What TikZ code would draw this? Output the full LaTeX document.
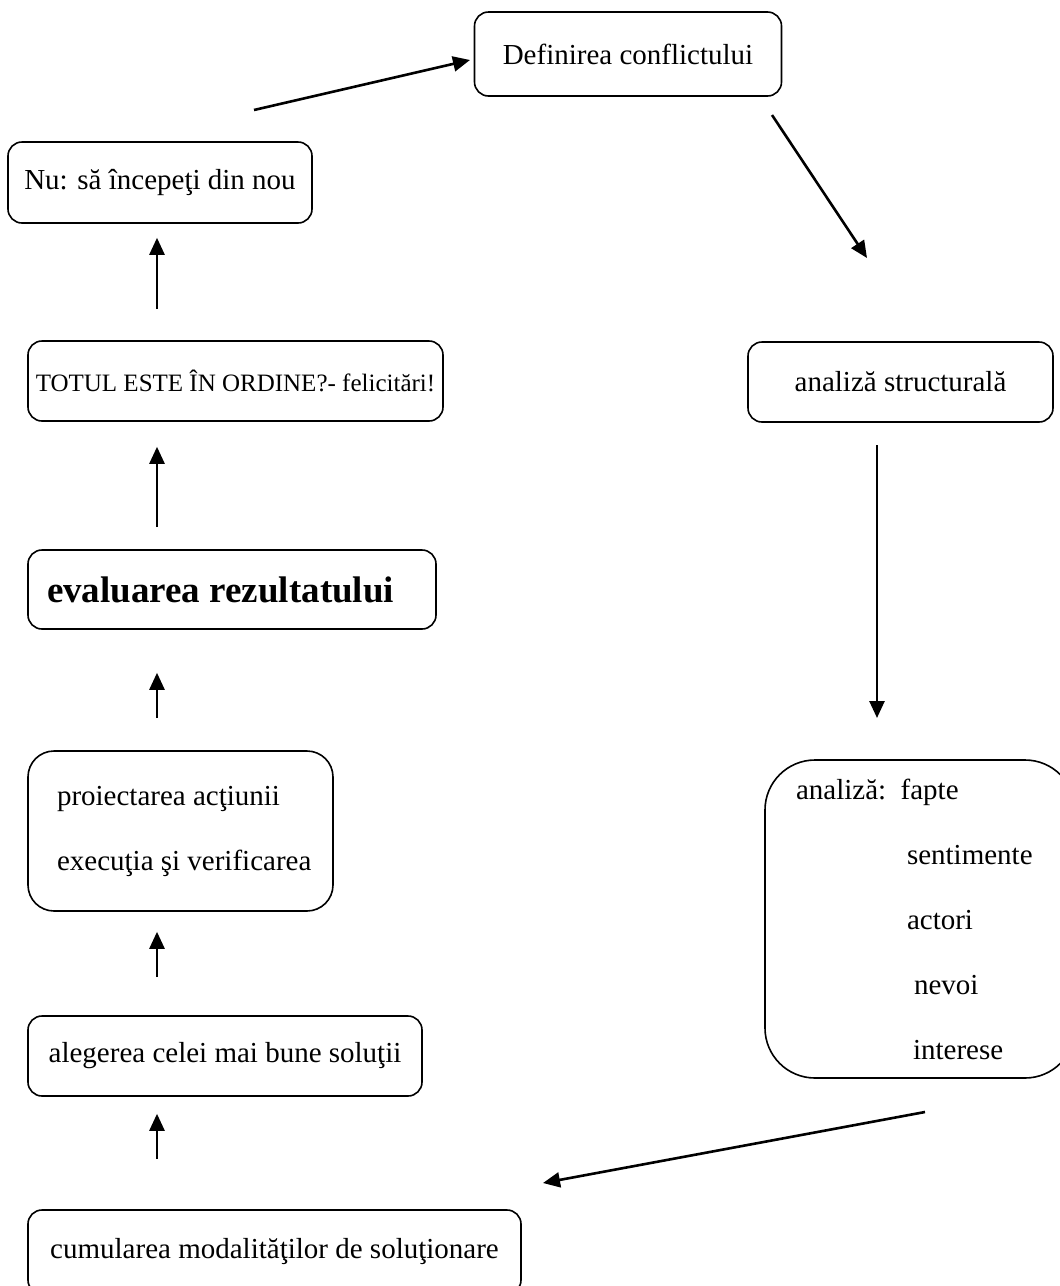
\documentclass[tikz,border=0pt]{standalone}
\usepackage{fontspec}
\setmainfont{Liberation Serif}
\usetikzlibrary{arrows.meta}

\begin{document}
\begin{tikzpicture}[x=1pt, y=-1pt,
  box/.style={draw, line width=1.6pt, rounded corners=14pt, inner sep=0pt,
    font=\fontsize{29}{34}\selectfont},
  flow/.style={line width=2.6pt, -{Triangle[length=17pt, width=15pt]}}]
  \useasboundingbox (0,0) rectangle (1060,1286);

  % right branch
  \node[box, minimum width=307, minimum height=84] (defn) at (628,54) {Definirea conflictului};
  \node[box, minimum width=305, minimum height=80] (struct) at (900.5,382) {analiză structurală};
  \node[box, rounded corners=50pt, minimum height=318, text width=310pt, align=flush left,
    font=\fontsize{29}{65}\selectfont] (anal) at (920,919)
    {\hspace*{31pt}analiză:\ \ fapte\\ \hspace*{142pt}sentimente\\ \hspace*{142pt}actori\\
     \hspace*{149pt}nevoi\\ \hspace*{148pt}interese};

  % left column, bottom to top
  \node[box, minimum width=493, minimum height=84] (cumul) at (274.5,1252) {cumularea modalităţilor de soluţionare};
  \node[box, minimum width=394, minimum height=80] (aleg) at (225,1056) {alegerea celei mai bune soluţii};
  \node[box, rounded corners=26pt, minimum height=160, text width=305pt, align=flush left,
    font=\fontsize{29}{65}\selectfont] (proiect) at (180.5,831)
    {\hspace*{29pt}proiectarea acţiunii\\ \hspace*{29pt}execuţia şi verificarea};
  \node[box, minimum height=79, text width=408pt, align=flush left,
    font=\fontsize{37}{42}\selectfont\bfseries] (eval) at (232,589.5) {\hspace*{19pt}evaluarea rezultatului};
  \node[box, minimum width=415, minimum height=80, font=\fontsize{25}{30}\selectfont] (totul) at (235.5,381)
    {TOTUL ESTE ÎN ORDINE?- felicitări!};
  \node[box, minimum width=304, minimum height=81] (nu) at (160,182.5) {Nu: să începeţi din nou};

  % arrow ends
  \coordinate (nuTail) at (254,110);
  \coordinate (defnHead) at (470,60);
  \coordinate (defnTail) at (772,115);
  \coordinate (structHead) at (867,258);
  \coordinate (structTail) at (877,445);
  \coordinate (analHead) at (877,718);
  \coordinate (analTail) at (925,1112);
  \coordinate (cumulHead) at (543,1183);

  % flow
  \draw[flow] (nuTail) -- (defnHead);
  \draw[flow] (defnTail) -- (structHead);
  \draw[flow] (structTail) -- (analHead);
  \draw[flow] (analTail) -- (cumulHead);

  % upward arrows along the left column
  \coordinate (spine) at (157,0);
  \draw[flow, shorten <=50pt, shorten >=17pt] (cumul.north -| spine) -- (aleg.south -| spine);
  \draw[flow, shorten <=38pt, shorten >=20pt] (aleg.north -| spine) -- (proiect.south -| spine);
  \draw[flow, shorten <=32pt, shorten >=43pt] (proiect.north -| spine) -- (eval.south -| spine);
  \draw[flow, shorten <=22pt, shorten >=25pt] (eval.north -| spine) -- (totul.south -| spine);
  \draw[flow, shorten <=31pt, shorten >=14pt] (totul.north -| spine) -- (nu.south -| spine);

\end{tikzpicture}
\end{document}
